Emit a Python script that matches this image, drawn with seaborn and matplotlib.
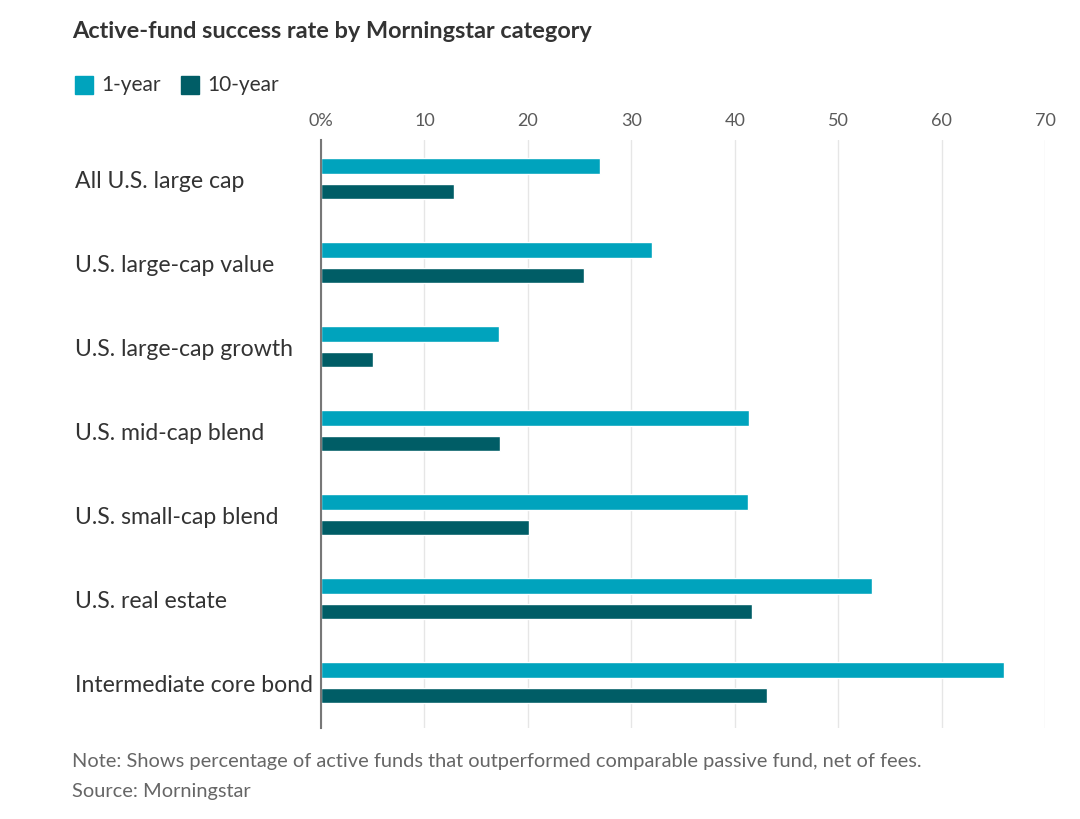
import matplotlib
matplotlib.use("Agg")
import matplotlib.pyplot as plt
import matplotlib.transforms as mtransforms
import pandas as pd
import seaborn as sns

# data (percent of active funds beating passive peers)
categories = ["All U.S. large cap",
              "U.S. large-cap value",
              "U.S. large-cap growth",
              "U.S. mid-cap blend",
              "U.S. small-cap blend",
              "U.S. real estate",
              "Intermediate core bond"]
one_year = [27.0, 32.0, 17.2, 41.4, 41.3, 53.3, 66.0]
ten_year = [12.9, 25.4, 5.0, 17.3, 20.1, 41.7, 43.1]
periods = ["1-year", "10-year"]
xticks = [0, 10, 20, 30, 40, 50, 60, 70]
xtick_labels = ["0%", "10", "20", "30", "40", "50", "60", "70"]

df = pd.DataFrame({"category": categories * 2,
                   "period": [periods[0]] * len(categories) + [periods[1]] * len(categories),
                   "value": one_year + ten_year})

sns.set_style("white")
plt.rcParams['font.family'] = ['Lato', 'DejaVu Sans']

colors = {"1-year": "#00a3bd", "10-year": "#005d66"}

fig = plt.figure(figsize=(10.8, 8.19), dpi=100)
ax = fig.add_axes([321/1080, 1 - 728/819, (1045 - 321)/1080, (728 - 140)/819])

sns.barplot(data=df, x="value", y="category", hue="period", order=categories,
            hue_order=periods, palette=colors, orient="h", width=0.61, gap=0.38,
            ax=ax, legend=False, saturation=1)

ax.set_xlim(0, 70)
ax.set_ylim(len(categories) - 0.46, -0.46)
ax.set_xticks(xticks)
ax.set_xticklabels(xtick_labels)
ax.xaxis.tick_top()
ax.tick_params(axis="x", length=0, pad=8, labelsize=13, labelcolor="#5a5a5a")
ax.set_xlabel("")
ax.set_ylabel("")
ax.set_yticks([])
for s in ["top", "right", "bottom"]:
    ax.spines[s].set_visible(False)
ax.spines["left"].set_color("#777777")
ax.spines["left"].set_linewidth(1.5)
ax.grid(axis="x", color="#e6e6e6", linewidth=1)
ax.set_axisbelow(True)

# category labels, left aligned at the figure edge
trans = mtransforms.blended_transform_factory(fig.transFigure, ax.transData)
for i, c in enumerate(categories):
    ax.text(75/1080, i + 0.04, c, transform=trans, ha="left", va="center",
            fontsize=16.6, color="#333333")

# title, legend, notes
fig.text(72/1080, 1 - 32/819, "Active-fund success rate by Morningstar category",
         fontsize=16.9, fontweight="bold", color="#333333", va="center")
lx = 75
for p, w in zip(periods, [106, 0]):
    fig.patches.append(plt.Rectangle((lx/1080, 1 - 94/819), 18/1080, 18/819,
                                     transform=fig.transFigure, color=colors[p]))
    fig.text((lx + 26)/1080, 1 - 85/819, p, fontsize=15, color="#333333", va="center")
    lx += w
fig.text(72/1080, 1 - 762/819,
         "Note: Shows percentage of active funds that outperformed comparable passive fund, net of fees.",
         fontsize=14.4, color="#666666", va="center")
fig.text(72/1080, 1 - 791/819, "Source: Morningstar", fontsize=14.4, color="#666666", va="center")

fig.savefig("out.png", dpi=100)
